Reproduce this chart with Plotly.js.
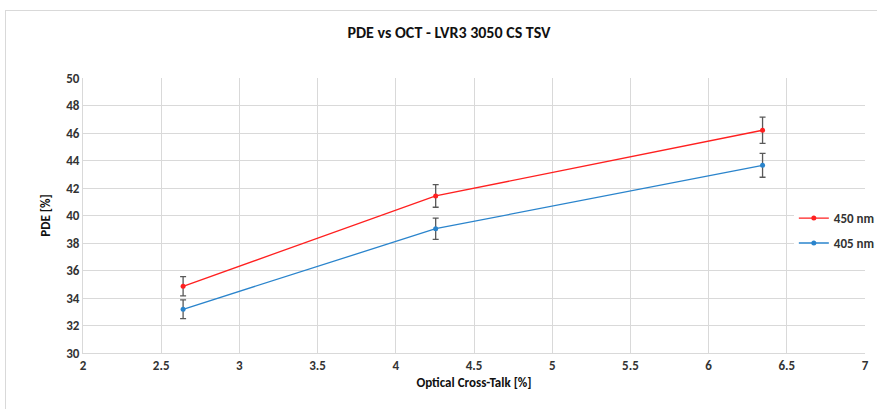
<!DOCTYPE html>
<html>
<head>
<meta charset="utf-8">
<script src="https://cdn.plot.ly/plotly-3.0.1.min.js"></script>
<style>
html,body{margin:0;padding:0;background:#fff;}
#frame{position:absolute;left:5px;top:10px;width:900px;height:420px;border:1px solid #d9d9d9;box-sizing:border-box;}
#chart{position:absolute;left:0;top:0;width:877px;height:409px;}
</style>
</head>
<body>
<div id="frame"></div>
<div id="chart"></div>
<script>
var oct = [2.64, 4.255, 6.345];
var pde450 = [34.85, 41.42, 46.2];
var err450 = [0.7, 0.82, 0.95];
var pde405 = [33.18, 39.04, 43.65];
var err405 = [0.68, 0.77, 0.87];
var seriesNames = ['450 nm', '405 nm'];
var xTicks = [2, 2.5, 3, 3.5, 4, 4.5, 5, 5.5, 6, 6.5, 7];
var yTicks = [30, 32, 34, 36, 38, 40, 42, 44, 46, 48, 50];

var FONT = "Carlito, 'Liberation Sans Narrow', 'Open Sans', sans-serif";

function trace(y, e, name, color, grp) {
  return {
    x: oct, y: y, name: name, type: 'scatter', mode: 'lines+markers', legendgroup: grp,
    line: {color: color, width: 1.3},
    marker: {color: color, size: 5, symbol: 'circle'},
    error_y: {type: 'data', array: e, visible: true, color: '#595959', thickness: 1.3, width: 3}
  };
}

var data = [
  trace(pde450, err450, seriesNames[0], '#ff2020', 'g1'),
  trace(pde405, err405, seriesNames[1], '#2a84cc', 'g2')
];

var tf = {family: FONT, size: 13, color: '#333', weight: 'bold'};

var layout = {
  width: 877, height: 409,
  margin: {l: 83, r: 12, t: 78, b: 56, autoexpand: false},
  paper_bgcolor: 'rgba(0,0,0,0)', plot_bgcolor: 'rgba(0,0,0,0)',
  font: {family: FONT, color: '#333'},
  title: {text: '<b>PDE vs OCT - LVR3 3050 CS TSV</b>', font: {family: FONT, size: 16, color: '#111'},
          x: 0.512, xref: 'container', xanchor: 'center', y: 0.922, yref: 'container', yanchor: 'middle'},
  xaxis: {
    range: [2, 7], tickvals: xTicks, ticktext: xTicks.map(String),
    showgrid: true, gridcolor: '#d9d9d9', gridwidth: 1, zeroline: false,
    showline: true, linecolor: '#d9d9d9', ticks: '', ticklen: 0,
    tickfont: tf,
    title: {text: '<b>Optical Cross-Talk [%]</b>', font: {family: FONT, size: 13, color: '#111'}, standoff: 6}
  },
  yaxis: {
    range: [30, 50], tickvals: yTicks, ticktext: yTicks.map(String),
    showgrid: true, gridcolor: '#d9d9d9', gridwidth: 1, zeroline: false,
    showline: true, linecolor: '#d9d9d9', ticks: '', ticklen: 0,
    tickfont: tf,
    title: {text: '<b>PDE [%]</b>', font: {family: FONT, size: 13, color: '#111'}, standoff: 12}
  },
  showlegend: true,
  legend: {
    x: 0.909, xanchor: 'left', y: 0.445, yanchor: 'middle',
    bgcolor: '#fff', borderwidth: 0,
    font: {family: FONT, size: 13, color: '#333', weight: 'bold'},
    itemwidth: 30, tracegroupgap: 5, traceorder: 'grouped'
  }
};

Plotly.newPlot('chart', data, layout, {displayModeBar: false, staticPlot: true});
</script>
</body>
</html>
